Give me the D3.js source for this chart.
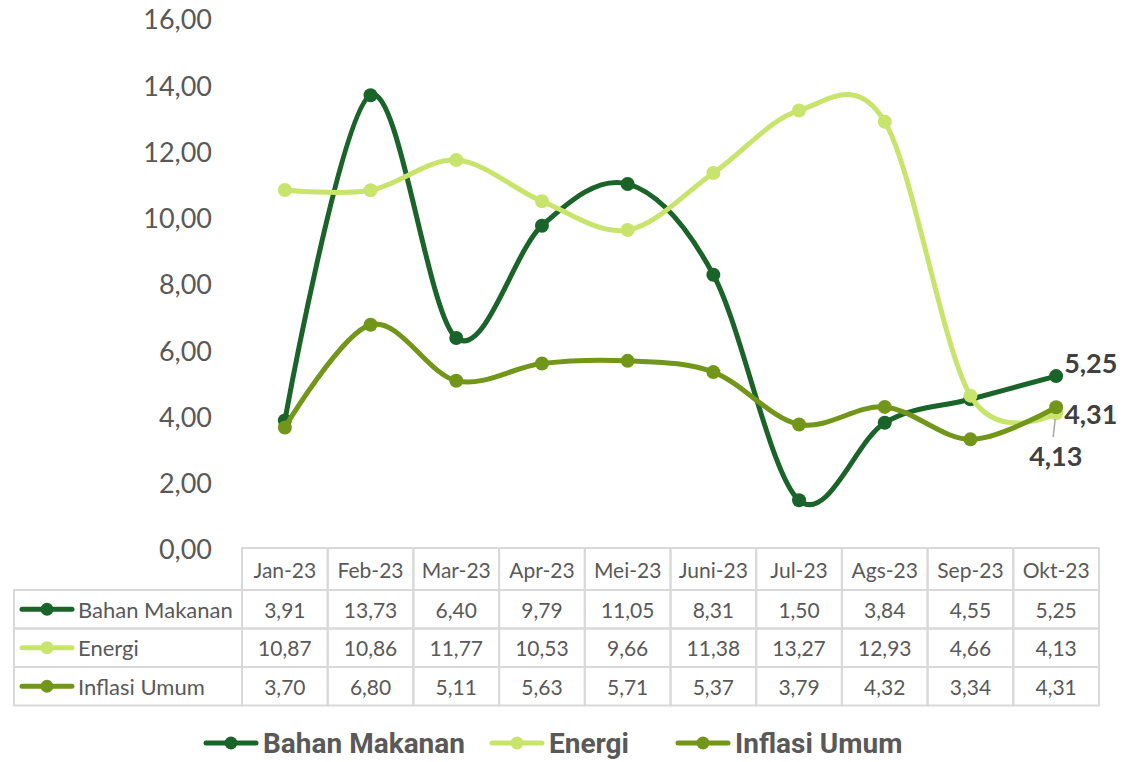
<!DOCTYPE html>
<html>
<head>
<meta charset="utf-8">
<script src="https://cdn.jsdelivr.net/npm/d3@7"></script>
<style>
  body { margin: 0; background: #fff; }
</style>
</head>
<body>
<svg id="chart"></svg>
<script>
const months = ["Jan-23","Feb-23","Mar-23","Apr-23","Mei-23","Juni-23","Jul-23","Ags-23","Sep-23","Okt-23"];
const seriesNames = ["Bahan Makanan","Energi","Inflasi Umum"];
const bahanMakanan = [3.91,13.73,6.40,9.79,11.05,8.31,1.50,3.84,4.55,5.25];
const energi = [10.87,10.86,11.77,10.53,9.66,11.38,13.27,12.93,4.66,4.13];
const inflasiUmum = [3.70,6.80,5.11,5.63,5.71,5.37,3.79,4.32,3.34,4.31];
const yTicks = [0,2,4,6,8,10,12,14,16];
const colors = ["#1a6329","#c9e46c","#72961a"];

const width = 1123, height = 762;
const svg = d3.select("#chart").attr("width", width).attr("height", height);

const series = [bahanMakanan, energi, inflasiUmum].map((v, i) => ({name: seriesNames[i], values: v, color: colors[i]}));
const fmt = v => d3.format(".2f")(v).replace(".", ",");

// scales
const x = d3.scaleBand().domain(months).range([242, 1099]);
const y = d3.scaleLinear().domain([0, 16]).range([550, 20]);
const cx = m => x(m) + x.bandwidth() / 2;

// y axis labels
svg.append("g").selectAll("text")
  .data(yTicks)
  .join("text")
  .attr("x", 212)
  .attr("y", d => y(d))
  .attr("dy", "0.35em")
  .attr("text-anchor", "end")
  .attr("font-family", "Lato, 'Open Sans', sans-serif")
  .attr("font-size", "27px")
  .attr("fill", "#595959")
  .text(d => fmt(d));

// lines
const line = d3.line()
  .x((d, i) => cx(months[i]))
  .y(d => y(d))
  .curve(d3.curveCatmullRom.alpha(0));

const lines = svg.append("g");
series.forEach(s => {
  const g = lines.append("g");
  g.append("path")
    .attr("d", line(s.values))
    .attr("fill", "none")
    .attr("stroke", s.color)
    .attr("stroke-width", 5)
    .attr("stroke-linecap", "round");
  g.selectAll("circle")
    .data(s.values)
    .join("circle")
    .attr("cx", (d, i) => cx(months[i]))
    .attr("cy", d => y(d))
    .attr("r", 7)
    .attr("fill", s.color);
});

// data labels for last point
const last = months.length - 1;
const labelFont = "Lato, 'Open Sans', sans-serif";
svg.append("line")
  .attr("x1", cx(months[last]) - 1).attr("x2", cx(months[last]) - 3)
  .attr("y1", y(energi[last]) + 6).attr("y2", y(energi[last]) + 24)
  .attr("stroke", "#a6a6a6").attr("stroke-width", 1.5);
const labels = [
  {v: bahanMakanan[last], x: cx(months[last]) + 8, y: y(bahanMakanan[last]) - 13},
  {v: inflasiUmum[last], x: cx(months[last]) + 8, y: y(inflasiUmum[last]) + 7},
  {v: energi[last], x: cx(months[last]) - 27, y: y(energi[last]) + 43}
];
svg.append("g").selectAll("text")
  .data(labels)
  .join("text")
  .attr("x", d => d.x)
  .attr("y", d => d.y)
  .attr("dy", "0.35em")
  .attr("font-family", labelFont)
  .attr("font-size", "27px")
  .attr("font-weight", "bold")
  .attr("fill", "#404040")
  .text(d => fmt(d.v));

// data table
const table = svg.append("g");
const rowH = 38.5;
const headerTop = 548, headerBottom = 590;
const tableLeft = 14;
const border = "#d9d9d9";
const tableFont = "Lato, 'Open Sans', sans-serif";

// header row
months.forEach(m => {
  table.append("rect")
    .attr("x", x(m)).attr("y", headerTop)
    .attr("width", x.bandwidth()).attr("height", headerBottom - headerTop)
    .attr("fill", "none").attr("stroke", border).attr("stroke-width", 2);
  table.append("text")
    .attr("x", cx(m)).attr("y", (headerTop + headerBottom) / 2 + 2)
    .attr("dy", "0.35em").attr("text-anchor", "middle")
    .attr("font-family", tableFont).attr("font-size", "21px").attr("fill", "#595959")
    .text(m);
});

series.forEach((s, r) => {
  const top = headerBottom + r * rowH;
  table.append("rect")
    .attr("x", tableLeft).attr("y", top)
    .attr("width", x.range()[0] - tableLeft).attr("height", rowH)
    .attr("fill", "none").attr("stroke", border).attr("stroke-width", 2);
  // legend key
  table.append("line")
    .attr("x1", 22).attr("x2", 72).attr("y1", top + rowH / 2).attr("y2", top + rowH / 2)
    .attr("stroke", s.color).attr("stroke-width", 5).attr("stroke-linecap", "round");
  table.append("circle")
    .attr("cx", 47).attr("cy", top + rowH / 2).attr("r", 6.5).attr("fill", s.color);
  table.append("text")
    .attr("x", 78).attr("y", top + rowH / 2 + 1).attr("dy", "0.35em")
    .attr("font-family", tableFont).attr("font-size", "22px").attr("fill", "#595959")
    .text(s.name);
  s.values.forEach((v, i) => {
    table.append("rect")
      .attr("x", x(months[i])).attr("y", top)
      .attr("width", x.bandwidth()).attr("height", rowH)
      .attr("fill", "none").attr("stroke", border).attr("stroke-width", 2);
    table.append("text")
      .attr("x", cx(months[i])).attr("y", top + rowH / 2 + 1).attr("dy", "0.35em")
      .attr("text-anchor", "middle")
      .attr("font-family", tableFont).attr("font-size", "21px").attr("fill", "#595959")
      .text(fmt(v));
  });
});

// bottom legend
const legendFont = "'Liberation Sans Narrow', 'Arial Narrow', Roboto, sans-serif";
const legendItems = [
  {name: seriesNames[0], color: colors[0], x: 206},
  {name: seriesNames[1], color: colors[1], x: 492},
  {name: seriesNames[2], color: colors[2], x: 678}
];
const legend = svg.append("g").attr("transform", "translate(0,743)");
legendItems.forEach(d => {
  legend.append("line")
    .attr("x1", d.x).attr("x2", d.x + 50)
    .attr("stroke", d.color).attr("stroke-width", 5).attr("stroke-linecap", "round");
  legend.append("circle").attr("cx", d.x + 25).attr("r", 6.5).attr("fill", d.color);
  legend.append("text")
    .attr("x", d.x + 57).attr("dy", "0.35em")
    .attr("font-family", legendFont).attr("font-size", "28px").attr("font-weight", "bold")
    .attr("fill", "#595959")
    .text(d.name);
});
</script>
</body>
</html>
